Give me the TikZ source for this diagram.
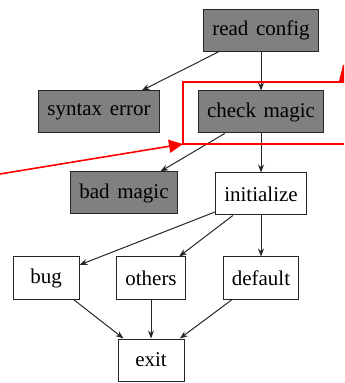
\documentclass[tikz,border=0pt]{standalone}
\usepackage{fontspec}
\setmainfont{Liberation Serif}
\usetikzlibrary{arrows.meta}
\newcommand\letrapaso{\fontsize{10.5}{12}\selectfont\spaceskip=3.8pt plus 1pt\relax}
\begin{document}
\begin{tikzpicture}[x=0.5pt,y=-0.5pt,
    paso/.style={draw=black!85, line width=0.5pt, minimum height=21pt, minimum width=33pt,
                 inner xsep=4.2pt, font=\letrapaso},
    oscuro/.style={paso, fill=gray},
    flecha/.style={-{Stealth[length=4pt,width=3pt]}, black!85, line width=0.5pt},
    marca/.style={red, line width=0.8pt}]
    % Marco de la figura
    \useasboundingbox (0,0) rectangle (344,383);
    \clip (0,0) rectangle (344,383);

    % Nodos grises
    \node[oscuro] (read)   at (261,30.5) {read config};
    \node[oscuro] (syntax) at (99,112)   {syntax error};
    \node[oscuro] (check)  at (261,112)  {check magic};
    \node[oscuro] (bad)    at (124,193)  {bad magic};

    % Nodos blancos
    \node[paso] (init)    at (261,194) {initialize};
    \node[paso] (bug)     at (46,278)  {bug};
    \node[paso] (others)  at (151,278) {others};
    \node[paso] (default) at (261,278) {default};
    \node[paso] (exit)    at (151,360) {exit};

    % Flechas
    \draw[flecha] (read) -- (syntax);
    \draw[flecha] (read) -- (check);
    \draw[flecha] (check) -- (bad);
    \draw[flecha] (check) -- (init);
    \foreach \n in {bug,others,default} {
        \draw[flecha] (init) -- (\n);
        \draw[flecha] (\n) -- (exit);
    }

    % Marca roja
    \coordinate (esq) at (183,144);
    \coordinate (origen) at (0,174);
    \draw[marca] (esq) rectangle (350,82);
    \draw[marca, -{Triangle[length=7pt,width=6.5pt]}] (origen) -- (esq);
    \fill[red] (339,81) -- (343,65) -- (345,65) -- (345,81) -- cycle;
\end{tikzpicture}
\end{document}
